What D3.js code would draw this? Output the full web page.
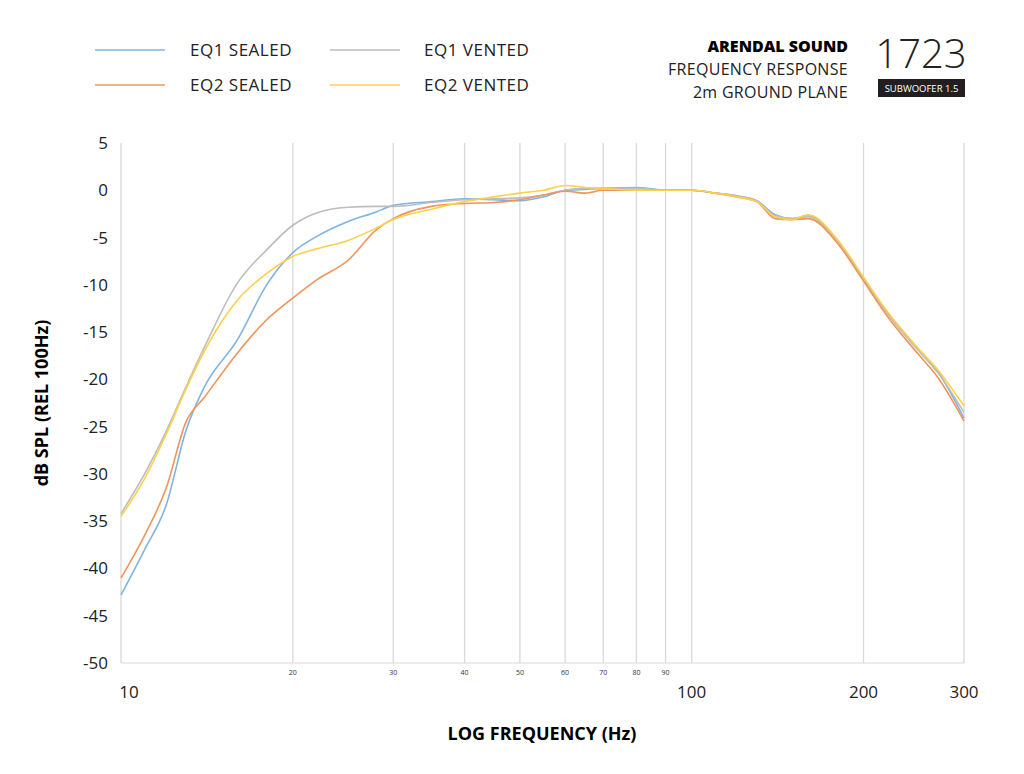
<!DOCTYPE html><html><head><meta charset="utf-8"><script src="https://cdn.jsdelivr.net/npm/d3@7"></script>
<style>body{margin:0;background:#fff}svg{font-family:"Open Sans",Lato,sans-serif}</style></head><body><svg id="c" width="1024" height="774"></svg>
<script>
const freqs=[10,11,12,13,14,16,18,20,22,25,28,30,35,40,45,50,55,60,65,70,80,90,100,110,120,130,140,150,160,180,200,220,250,270,300];
const eq1Sealed=[-42.8,-38,-33.3,-25.4,-20.8,-15.8,-10,-6.6,-4.9,-3.3,-2.3,-1.6,-1.2,-0.9,-1.0,-1.1,-0.7,0,0.1,0.2,0.3,0,0,-0.3,-0.6,-1.1,-2.6,-3,-2.7,-5.3,-9.3,-12.9,-16.9,-19.2,-24.1];
const eq1Vented=[-34.2,-30,-25.5,-20.8,-16.6,-9.8,-6.3,-3.7,-2.4,-1.8,-1.7,-1.7,-1.3,-1.0,-0.9,-0.8,-0.5,0,0.2,0.2,0.2,0,0,-0.3,-0.6,-1.1,-2.7,-3,-2.8,-5.4,-9.4,-13,-17,-19.3,-23.5];
const eq2Sealed=[-41,-36.5,-31.5,-24.5,-21.9,-17.2,-13.7,-11.4,-9.5,-7.4,-4.2,-3,-1.7,-1.4,-1.3,-1,-0.5,-0.1,-0.3,0,0,0,0,-0.3,-0.7,-1.2,-3,-3.1,-3,-5.6,-9.6,-13.3,-17.4,-19.8,-24.4];
const eq2Vented=[-34.5,-30.5,-25.8,-21,-17,-11.6,-8.8,-7,-6.2,-5.3,-4,-3.1,-2,-1.2,-0.7,-0.3,0,0.5,0.3,0.2,0,0,0,-0.3,-0.7,-1.2,-2.8,-3.1,-2.6,-5.2,-9.2,-12.8,-16.8,-19,-22.8];
const series=[{name:"EQ1 SEALED",c:"#7fb3e0",v:eq1Sealed},{name:"EQ1 VENTED",c:"#bdbdbd",v:eq1Vented},{name:"EQ2 SEALED",c:"#f0945a",v:eq2Sealed},{name:"EQ2 VENTED",c:"#fbd14b",v:eq2Vented}];
const gridFreqs=[10,20,30,40,50,60,70,80,90,100,200,300];
const majorTicks=[10,100,200,300];
const minorTicks=[20,30,40,50,60,70,80,90];
const yTicks=[5,0,-5,-10,-15,-20,-25,-30,-35,-40,-45,-50];
const svg=d3.select("#c");
const x=d3.scaleLog().domain([10,300]).range([121,964]);
const y=d3.scaleLinear().domain([-50,5]).range([663,143]);
svg.selectAll(".g").data(gridFreqs).enter().append("line").attr("x1",d=>x(d)).attr("x2",d=>x(d)).attr("y1",143).attr("y2",663).attr("stroke","#d9d9d9").attr("stroke-width",1.3);
svg.append("line").attr("x1",121).attr("x2",964).attr("y1",663).attr("y2",663).attr("stroke","#d9d9d9");
svg.selectAll(".yt").data(yTicks).enter().append("text").attr("x",108).attr("y",d=>y(d)+6).attr("text-anchor","end").attr("font-size",17).attr("fill","#222").text(d=>d);
svg.selectAll(".mt").data(majorTicks).enter().append("text").attr("x",d=>x(d)+(d==10?8:0)).attr("y",698).attr("text-anchor","middle").attr("font-size",17).attr("fill","#222").text(d=>d);
svg.selectAll(".nt").data(minorTicks).enter().append("text").attr("x",d=>x(d)).attr("y",675).attr("text-anchor","middle").attr("font-size",7).attr("fill","#333").text(d=>d);
const line=d3.line().x((d,i)=>x(freqs[i])).y(d=>y(d)).curve(d3.curveMonotoneX);
series.forEach(s=>svg.append("path").attr("d",line(s.v)).attr("fill","none").attr("stroke",s.c).attr("stroke-width",1.6));
svg.append("text").attr("transform","translate(48,403) rotate(-90)").attr("text-anchor","middle").attr("font-size",18).attr("font-weight","bold").text("dB SPL (REL 100Hz)");
svg.append("text").attr("x",542).attr("y",740).attr("text-anchor","middle").attr("font-size",18).attr("font-weight","bold").text("LOG FREQUENCY (Hz)");
const leg=[[series[0],95,190,50],[series[2],95,190,85],[series[1],330,424,50],[series[3],330,424,85]];
leg.forEach(([s,lx,tx,ly])=>{svg.append("line").attr("x1",lx).attr("x2",lx+70).attr("y1",ly).attr("y2",ly).attr("stroke",s.c).attr("stroke-width",1.6);
svg.append("text").attr("x",tx).attr("y",ly+6).attr("font-size",17).attr("letter-spacing",0.5).attr("fill","#222").text(s.name);});
svg.append("text").attr("x",848).attr("y",52).attr("text-anchor","end").attr("font-size",16).attr("font-weight","800").text("ARENDAL SOUND");
svg.append("text").attr("x",848).attr("y",75).attr("text-anchor","end").attr("font-size",16).attr("letter-spacing",0.3).attr("fill","#222").text("FREQUENCY RESPONSE");
svg.append("text").attr("x",848).attr("y",98).attr("text-anchor","end").attr("font-size",16).attr("letter-spacing",0.3).attr("fill","#222").text("2m GROUND PLANE");
svg.append("text").attr("x",921).attr("y",68).attr("text-anchor","middle").attr("font-size",40).attr("font-weight","300").attr("fill","#222").text("1723");
svg.append("rect").attr("x",878).attr("y",79).attr("width",87).attr("height",18).attr("fill","#231f20");
svg.append("text").attr("x",921.5).attr("y",92).attr("text-anchor","middle").attr("font-size",9.5).attr("fill","#fff").text("SUBWOOFER 1.5");
</script></body></html>
